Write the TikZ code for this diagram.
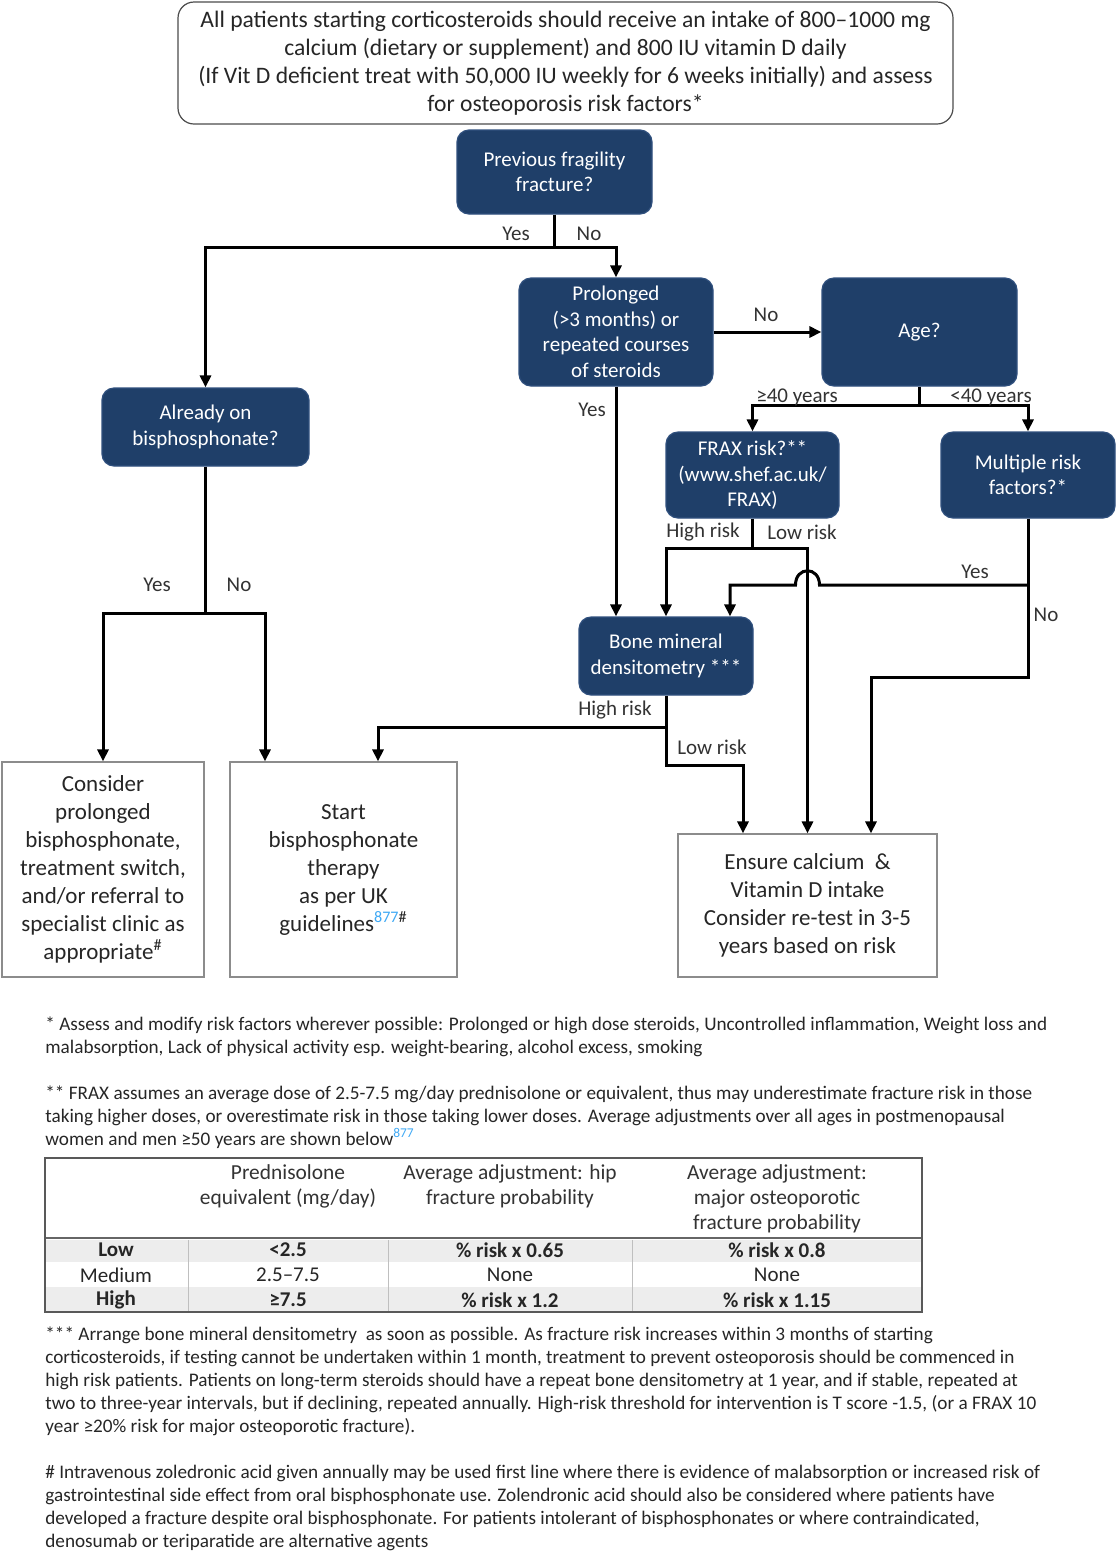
\documentclass[tikz,border=0pt]{standalone}
\usepackage{fontspec}
\setmainfont{Carlito}
\usetikzlibrary{positioning,calc,arrows.meta}
\definecolor{flow}{HTML}{1F3F69}
\definecolor{flowedge}{HTML}{30507E}
\definecolor{note}{HTML}{333333}
\definecolor{cite}{HTML}{3FA9F5}
\definecolor{rowgray}{HTML}{EDEDED}

\begin{document}
\begin{tikzpicture}[x=0.5pt,y=-0.5pt,font=\fontsize{10.5}{12.75}\selectfont,
  q/.style={draw=flowedge,fill=flow,text=white,rounded corners=6pt,align=center,inner sep=2pt,line width=0.6pt},
  act/.style={draw=black!45,line width=0.6pt,align=center,inner sep=2pt,font=\fontsize{11.5}{14}\selectfont,text=black!85},
  lbl/.style={font=\fontsize{10.5}{12}\selectfont,text=note},
  wire/.style={line width=1.5pt},
  arr/.style={wire,-{Triangle[length=6pt,width=5.5pt]}},
  fn/.style={anchor=north west,align=left,font=\fontsize{9.6}{11.5}\selectfont,text=black!85,inner sep=0pt},
  th/.style={align=center,font=\fontsize{10.7}{12.5}\selectfont,text=black!80,inner sep=0pt},
  td/.style={font=\fontsize{10.5}{12}\selectfont,text=black!85,inner sep=0pt},
  tdb/.style={td,font=\fontsize{10.5}{12}\bfseries}]
  \useasboundingbox (0,0) rectangle (1119,1554);
  \fill[white] (0,0) rectangle (1119,1554);

  % boxes
  \node[act,minimum width=387.5pt,minimum height=61pt,rounded corners=8pt,draw=black!70,font=\fontsize{11.8}{14}\selectfont] (intake) at (565.5,63)
    {All patients starting corticosteroids should receive an intake of 800--1000 mg\\calcium (dietary or supplement) and 800 IU vitamin D daily\\(If Vit D deficient treat with 50,000 IU weekly for 6 weeks initially) and assess\\for osteoporosis risk factors*};
  \node[q,minimum width=97.5pt,minimum height=42pt] (prev) at (554.5,172) {Previous fragility\\fracture?};
  \node[q,minimum width=97pt,minimum height=54pt] (prolong) at (616,332) {Prolonged\\(>3 months) or\\repeated courses\\of steroids};
  \node[q,minimum width=97.5pt,minimum height=54pt] (age) at (919.5,332) {Age?};
  \node[q,minimum width=103.5pt,minimum height=39pt] (already) at (205.5,427) {Already on\\bisphosphonate?};
  \node[q,minimum width=86.5pt,minimum height=43pt] (frax) at (752.5,475) {FRAX risk?**\\(www.shef.ac.uk/\\FRAX)};
  \node[q,minimum width=87pt,minimum height=43pt] (multi) at (1028,475) {Multiple risk\\factors?*};
  \node[q,minimum width=87pt,minimum height=39pt] (bmd) at (666,656) {Bone mineral\\densitometry ***};
  \node[act,minimum width=101pt,minimum height=107.5pt] (consider) at (103,869.5)
    {Consider\\prolonged\\bisphosphonate,\\treatment switch,\\and/or referral to\\specialist clinic as\\appropriate\textsuperscript{\#}};
  \node[act,minimum width=113.5pt,minimum height=107.5pt] (start) at (343.5,869.5)
    {Start\\bisphosphonate\\therapy\\as per UK\\guidelines\textsuperscript{{\color{cite}877}\#}};
  \node[act,minimum width=129.5pt,minimum height=71.5pt] (ensure) at (807.5,905.5)
    {Ensure calcium\ \ \&\\Vitamin D intake\\Consider re-test in 3-5\\years based on risk};

  % forks
  \coordinate (fracfork) at (554.5,247);
  \coordinate (agefork) at (919.5,405);
  \coordinate (fraxfork) at (752.5,548);
  \coordinate (multifork) at (1028,585);
  \coordinate (bmdfork) at (666,727);
  \coordinate (alreadyfork) at (205.5,613);

  \draw[wire] (prev.south) -- (fracfork);
  \draw[arr] (fracfork) -| (already.north);
  \draw[arr] (fracfork) -| (prolong.north);
  \draw[arr] (prolong.east) -- (age.west);
  \draw[arr] (prolong.south) -- (prolong.south |- bmd.north);
  \draw[wire] (age.south) -- (agefork);
  \draw[arr] (agefork) -| (frax.north);
  \draw[arr] (agefork) -| (multi.north);
  \draw[wire] (frax.south) -- (fraxfork);
  \draw[arr] (fraxfork) -| (bmd.north);
  \draw[arr] (fraxfork) -| (ensure.north);
  \draw[wire] (multi.south) -- (multifork);
  \draw[arr] (multifork) -- (819.5,585) .. controls (819.5,566) and (795.5,566) .. (795.5,585)
    -| ($(bmd.north)+(64,0)$);
  \draw[arr] (multifork) -- (1028,677) -| ($(ensure.north)+(63.5,0)$);
  \draw[wire] (bmd.south) -- (bmdfork);
  \draw[arr] (bmdfork) -| ($(start.north)+(34.5,0)$);
  \draw[arr] (bmdfork) -- (666,765) -| ($(ensure.north)+(-64.5,0)$);
  \draw[wire] (already.south) -- (alreadyfork);
  \draw[arr] (alreadyfork) -| (consider.north);
  \draw[arr] (alreadyfork) -| ($(start.north)+(-78.5,0)$);

  % labels
  \node[lbl] (l-fy) at (516,234) {Yes};
  \node[lbl] (l-fn) at (589,234) {No};
  \node[lbl] (l-pn) at (766,315) {No};
  \node[lbl] (l-py) at (592,410) {Yes};
  \node[lbl] (l-old) at (797,397) {≥40 years};
  \node[lbl] (l-young) at (991,397) {<40 years};
  \node[lbl] (l-xh) at (703,532) {High risk};
  \node[lbl] (l-xl) at (802,532) {Low risk};
  \node[lbl] (l-my) at (975,572) {Yes};
  \node[lbl] (l-mn) at (1046,615) {No};
  \node[lbl] (l-bh) at (615,710) {High risk};
  \node[lbl] (l-bl) at (712,747) {Low risk};
  \node[lbl] (l-ay) at (157,585) {Yes};
  \node[lbl] (l-an) at (239,585) {No};

  % footnotes
  \node[fn] (fn1) at (45,1016) {* Assess and modify risk factors wherever possible: Prolonged or high dose steroids, Uncontrolled inflammation, Weight loss and\\malabsorption, Lack of physical activity esp. weight-bearing, alcohol excess, smoking};
  \node[fn] (fn2) at (45,1085) {** FRAX assumes an average dose of 2.5-7.5 mg/day prednisolone or equivalent, thus may underestimate fracture risk in those\\taking higher doses, or overestimate risk in those taking lower doses. Average adjustments over all ages in postmenopausal\\women and men ≥50 years are shown below\textsuperscript{\color{cite}877}};

  % table
  \fill[rowgray] (45,1240) rectangle (922,1262);
  \fill[rowgray] (45,1287) rectangle (922,1312);
  \draw[black!25,line width=0.5pt] (188,1240) -- (188,1312) (388,1240) -- (388,1312) (632,1240) -- (632,1312);
  \draw[black!60,line width=1.2pt] (45,1238) -- (922,1238);
  \draw[black!65,line width=1pt] (45,1158) rectangle (922,1312);
  \node[th,anchor=north] (h-dose) at (288,1164) {Prednisolone\\equivalent (mg/day)};
  \node[th,anchor=north] (h-hip) at (510,1164) {Average adjustment: hip\\fracture probability};
  \node[th,anchor=north] (h-major) at (777,1164) {Average adjustment:\\major osteoporotic\\fracture probability};
  \node[tdb] (r-low) at (116,1250) {Low};
  \node[tdb] (r-low2) at (288,1250) {<2.5};
  \node[tdb] (r-low3) at (510,1250) {\% risk x 0.65};
  \node[tdb] (r-low4) at (777,1250) {\% risk x 0.8};
  \node[td] (r-med) at (116,1275) {Medium};
  \node[td] (r-med2) at (288,1275) {2.5--7.5};
  \node[td] (r-med3) at (510,1275) {None};
  \node[td] (r-med4) at (777,1275) {None};
  \node[tdb] (r-high) at (116,1300) {High};
  \node[tdb] (r-high2) at (288,1300) {≥7.5};
  \node[tdb] (r-high3) at (510,1300) {\% risk x 1.2};
  \node[tdb] (r-high4) at (777,1300) {\% risk x 1.15};

  \node[fn] (fn3) at (45,1326) {*** Arrange bone mineral densitometry\ \ as soon as possible. As fracture risk increases within 3 months of starting\\corticosteroids, if testing cannot be undertaken within 1 month, treatment to prevent osteoporosis should be commenced in\\high risk patients. Patients on long-term steroids should have a repeat bone densitometry at 1 year, and if stable, repeated at\\two to three-year intervals, but if declining, repeated annually. High-risk threshold for intervention is T score -1.5, (or a FRAX 10\\year ≥20\% risk for major osteoporotic fracture).};
  \node[fn] (fn4) at (45,1465) {\# Intravenous zoledronic acid given annually may be used first line where there is evidence of malabsorption or increased risk of\\gastrointestinal side effect from oral bisphosphonate use. Zolendronic acid should also be considered where patients have\\developed a fracture despite oral bisphosphonate. For patients intolerant of bisphosphonates or where contraindicated,\\denosumab or teriparatide are alternative agents};
\end{tikzpicture}
\end{document}
